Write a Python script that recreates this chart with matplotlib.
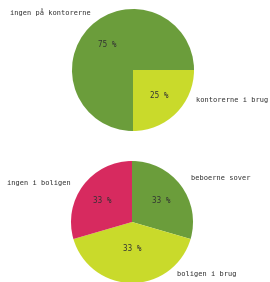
import matplotlib
matplotlib.use('Agg')
import matplotlib.pyplot as plt

#Top pie: offices
office_labels = ['kontorerne i brug', 'ingen på kontorerne']
office_values = [25, 75]
office_pct = ['25 %', '75 %']
office_colors = ['#c9da2b', '#6b9d3b']

#Bottom pie: homes (labelled 33 % each, drawn unequal)
home_labels = ['beboerne sover', 'boligen i brug', 'ingen i boligen']
home_values = [29.5, 41, 29.5]
home_pct = ['33 %', '33 %', '33 %']
home_colors = ['#6b9d3b', '#c9da2b', '#d72a5f']

W, H = 270, 282
fig = plt.figure(figsize=(W / 100, H / 100), dpi=100)
fig.patch.set_facecolor('white')

txt = dict(family='DejaVu Sans Mono', fontsize=5, color='#333333')
pct_txt = dict(family='DejaVu Sans Mono', fontsize=5.5, color='#333333')

def make_axes(cx, cy, r):
    return fig.add_axes([(cx - r) / W, (H - cy - r) / H, 2 * r / W, 2 * r / H])

#Top pie
ax1 = make_axes(133, 70, 61)
w1, t1, a1 = ax1.pie(office_values, labels=office_labels, colors=office_colors,
                     startangle=0, counterclock=False, autopct='%1.0f', pctdistance=0.6,
                     wedgeprops=dict(linewidth=0), textprops=txt)
for a, s in zip(a1, office_pct):
    a.set_text(s)
    a.set_fontproperties(matplotlib.font_manager.FontProperties(family='DejaVu Sans Mono', size=5.5))
t1[0].set_position((1.03, -0.49)); t1[0].set_ha('left')
t1[1].set_position((-0.69, 0.95)); t1[1].set_ha('right')
ax1.set_xlim(-1, 1)
ax1.set_ylim(-1, 1)

#Bottom pie
ax2 = make_axes(132, 222, 61)
w2, t2, a2 = ax2.pie(home_values, labels=home_labels, colors=home_colors,
                     startangle=90, counterclock=False, autopct='%1.0f', pctdistance=0.6,
                     wedgeprops=dict(linewidth=0), textprops=txt)
for a, s in zip(a2, home_pct):
    a.set_text(s)
    a.set_fontproperties(matplotlib.font_manager.FontProperties(family='DejaVu Sans Mono', size=5.5))
a2[1].set_position((0, -0.43))
t2[0].set_position((0.97, 0.72)); t2[0].set_ha('left')
t2[1].set_position((0.74, -0.85)); t2[1].set_ha('left')
t2[2].set_position((-1.0, 0.64)); t2[2].set_ha('right')
ax2.set_xlim(-1, 1)
ax2.set_ylim(-1, 1)

fig.savefig('out.png', dpi=100, facecolor='white')
